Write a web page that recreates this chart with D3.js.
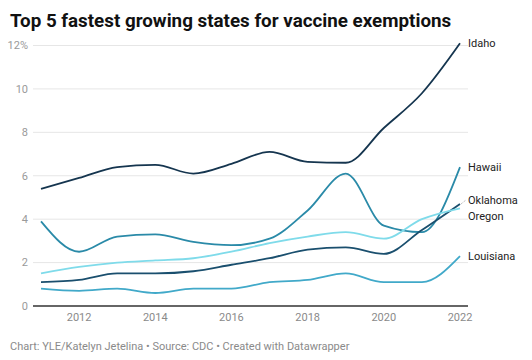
<!DOCTYPE html>
<html><head><meta charset="utf-8">
<script src="https://cdn.jsdelivr.net/npm/d3@7"></script>
<style>
body{margin:0;background:#fff;}
svg{display:block;font-family:Roboto,"Noto Sans",sans-serif;}
</style></head>
<body><svg id="c" width="532" height="360"></svg>
<script>
const years = [2011,2012,2013,2014,2015,2016,2017,2018,2019,2020,2021,2022];
const idaho =     [5.4,5.9,6.4,6.5,6.1,6.55,7.1,6.64,6.6,8.2,9.8,12.1];
const hawaii =    [3.9,2.5,3.2,3.3,2.95,2.8,3.1,4.4,6.1,3.7,3.4,6.4];
const oklahoma =  [1.1,1.2,1.5,1.5,1.6,1.9,2.2,2.6,2.7,2.4,3.5,4.7];
const oregon =    [1.5,1.8,2.0,2.1,2.2,2.5,2.9,3.2,3.4,3.1,4.0,4.5];
const louisiana = [0.8,0.7,0.8,0.6,0.8,0.8,1.1,1.2,1.5,1.1,1.1,2.3];
const seriesNames = ["Idaho","Hawaii","Oklahoma","Oregon","Louisiana"];
const seriesValues = [idaho,hawaii,oklahoma,oregon,louisiana];
const seriesColors = ["#15354f","#2a8aa8","#1a4f6e","#7fdbea","#41a9c9"];
const yTicks = [0,2,4,6,8,10,12];
const xTicks = [2012,2014,2016,2018,2020,2022];
const title = "Top 5 fastest growing states for vaccine exemptions";
const footer = "Chart: YLE/Katelyn Jetelina • Source: CDC • Created with Datawrapper";

const svg = d3.select("#c");
const x = d3.scaleLinear().domain([2011,2022]).range([41,460]);
const y = d3.scaleLinear().domain([0,12]).range([306,45.5]);

svg.append("text").attr("x",10).attr("y",27).attr("font-size",18.8).attr("font-weight",700)
  .attr("fill","#111").text(title);

// grid
const g = svg.append("g");
g.selectAll("line.grid").data(yTicks.filter(d=>d>0)).join("line")
  .attr("x1",33).attr("x2",468).attr("y1",d=>y(d)).attr("y2",d=>y(d))
  .attr("stroke","#e6e6e6").attr("stroke-width",1);
g.selectAll("text.yl").data(yTicks).join("text")
  .attr("x",28).attr("y",d=>y(d)).attr("dy","0.35em").attr("text-anchor","end")
  .attr("font-size",11).attr("fill","#9a9a9a").text(d=>d===12?"12%":d);
g.selectAll("text.xl").data(xTicks).join("text")
  .attr("x",d=>x(d)).attr("y",321).attr("text-anchor","middle")
  .attr("font-size",11).attr("fill","#8a8a8a").text(d=>d);

const line = d3.line().x((d,i)=>x(years[i])).y(d=>y(d)).curve(d3.curveMonotoneX);
seriesValues.forEach((vals,k)=>{
  svg.append("path").attr("d",line(vals)).attr("fill","none")
    .attr("stroke",seriesColors[k]).attr("stroke-width",1.8);
});

svg.append("line").attr("x1",33).attr("x2",468).attr("y1",y(0)).attr("y2",y(0))
  .attr("stroke","#333").attr("stroke-width",1.5);

// labels
const labelY = {Idaho:y(idaho[11]), Hawaii:y(hawaii[11]), Oklahoma:y(oklahoma[11])-4, Oregon:y(oregon[11])+8, Louisiana:y(louisiana[11])};
seriesNames.forEach((n,k)=>{
  svg.append("text").attr("x",468).attr("y",labelY[n]).attr("dy","0.35em")
    .attr("font-size",11).attr("fill","#222").text(n);
});
svg.append("line").attr("x1",x(2022)+1).attr("x2",466).attr("y1",y(oklahoma[11])).attr("y2",labelY.Oklahoma)
  .attr("stroke","#999").attr("stroke-width",0.8).attr("stroke-dasharray","1,1");

svg.append("text").attr("x",10).attr("y",350).attr("font-size",11).attr("fill","#8a8a8a").text(footer);
</script></body></html>
